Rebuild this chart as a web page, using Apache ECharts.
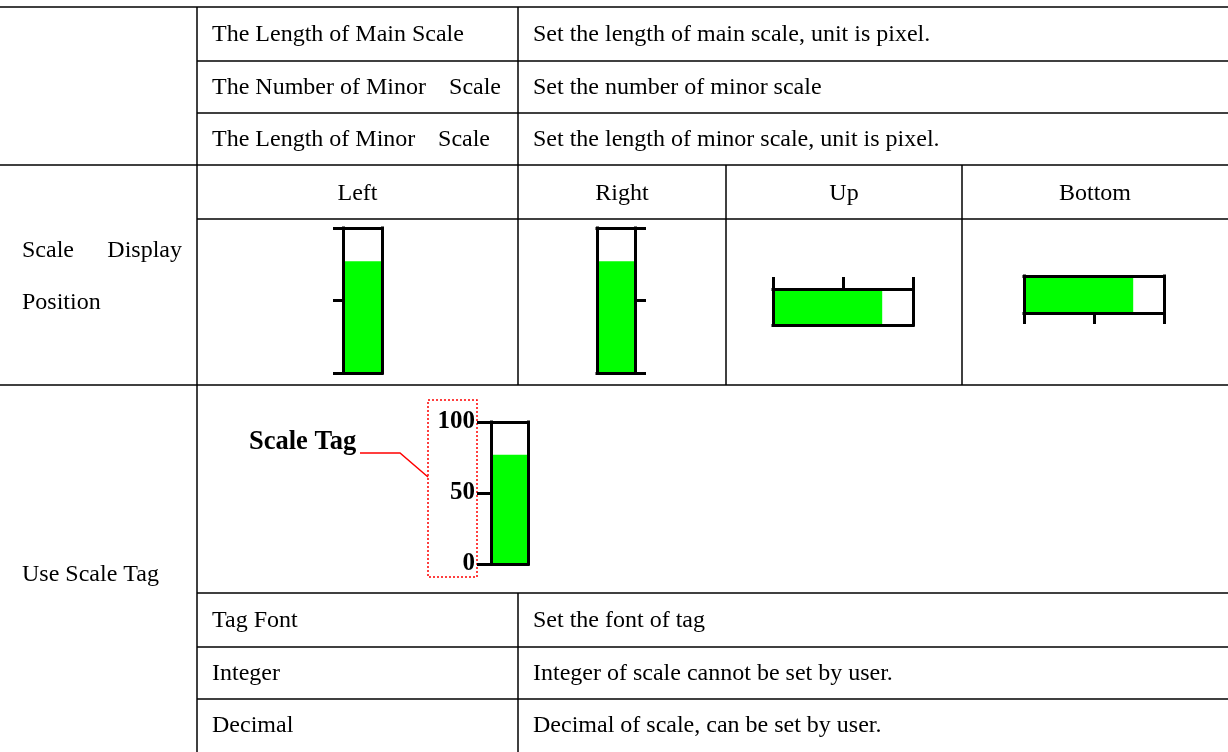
<!DOCTYPE html>
<html><head><meta charset="utf-8">
<script src="https://cdn.jsdelivr.net/npm/echarts@6/dist/echarts.min.js"></script>
<style>html,body{margin:0;padding:0;background:#fff}#c{width:1228px;height:752px}</style>
</head><body><div id="c"></div>
<script>
// ---- data ----
const positionNames = ['Left', 'Right', 'Up', 'Bottom'];
const gaugeValues = [77, 77, 78, 78];
const tagGaugeValue = 77;
const scaleMin = 0;
const scaleMax = 100;
const scaleStep = 50;
const scaleRowNames = ['The Length of Main Scale', 'The Number of Minor', 'The Length of Minor'];
const scaleRowTails = ['', 'Scale', 'Scale'];
const scaleRowDescs = ['Set the length of main scale, unit is pixel.', 'Set the number of minor scale', 'Set the length of minor scale, unit is pixel.'];
const tagRowNames = ['Tag Font', 'Integer', 'Decimal'];
const tagRowDescs = ['Set the font of tag', 'Integer of scale cannot be set by user.', 'Decimal of scale, can be set by user.'];
const sideLabels = ['Scale', 'Display', 'Position', 'Use Scale Tag'];
const tagTitle = 'Scale Tag';

// ---- layout ----
const FONT = '"Liberation Serif", "Times New Roman", serif';
const FS = 24;
const BLACK = '#000';
const GREEN = '#00ff00';
const DY = 1.5;

const grids = [], xAxes = [], yAxes = [], series = [];
const lineSt = { color: BLACK, width: 3, cap: 'square' };
function plainAxis(g, type, pos, extra) {
  return Object.assign({
    gridIndex: g, type: type, position: pos,
    axisLine: { show: true, onZero: false, lineStyle: lineSt },
    axisTick: { show: false }, axisLabel: { show: false }, splitLine: { show: false }, z: 5
  }, type === 'value' ? { min: scaleMin, max: scaleMax, interval: scaleStep } : { data: [''] }, extra || {});
}
function scaleAxis(g, pos, tickLen, label) {
  return {
    gridIndex: g, type: 'value', position: pos, min: scaleMin, max: scaleMax, interval: scaleStep,
    axisLine: { show: true, onZero: false, lineStyle: lineSt },
    axisTick: { show: true, length: tickLen, lineStyle: { color: BLACK, width: 3 } },
    axisLabel: label || { show: false },
    splitLine: { show: false }, z: 5
  };
}
function vGauge(box, side, tickLen, value, label) {
  const g = grids.length;
  grids.push({ left: box[0], top: box[1], width: box[2], height: box[3], containLabel: false });
  const xi = xAxes.length, yi = yAxes.length;
  xAxes.push(plainAxis(g, 'category', 'bottom'), plainAxis(g, 'category', 'top'));
  yAxes.push(scaleAxis(g, side, tickLen, label), plainAxis(g, 'value', side === 'left' ? 'right' : 'left'));
  series.push({ type: 'bar', xAxisIndex: xi, yAxisIndex: yi, data: [value], barWidth: '100%', itemStyle: { color: GREEN }, silent: true, z: 2 });
}
function hGauge(box, side, tickLen, value) {
  const g = grids.length;
  grids.push({ left: box[0], top: box[1], width: box[2], height: box[3], containLabel: false });
  const xi = xAxes.length, yi = yAxes.length;
  xAxes.push(scaleAxis(g, side, tickLen), plainAxis(g, 'value', side === 'top' ? 'bottom' : 'top'));
  yAxes.push(plainAxis(g, 'category', 'left'), plainAxis(g, 'category', 'right'));
  series.push({ type: 'bar', xAxisIndex: xi, yAxisIndex: yi, data: [value], barWidth: '100%', itemStyle: { color: GREEN }, silent: true, z: 2 });
}
vGauge([343, 228, 39, 145], 'left', 10, gaugeValues[0]);
vGauge([597, 228, 38, 145], 'right', 11, gaugeValues[1]);
hGauge([773, 289, 140, 36], 'top', 12, gaugeValues[2]);
hGauge([1024, 276, 140, 37], 'bottom', 11, gaugeValues[3]);
vGauge([491, 422, 37, 142], 'left', 14, tagGaugeValue,
  { show: true, margin: 16, color: BLACK, fontFamily: FONT, fontWeight: 'bold', fontSize: 25 });

// ---- table graphics ----
const gr = [];
function hl(y, x1, x2) { gr.push({ type: 'line', shape: { x1: x1, y1: y, x2: x2, y2: y }, style: { stroke: BLACK, lineWidth: 1.5 }, silent: true }); }
function vl(x, y1, y2) { gr.push({ type: 'line', shape: { x1: x, y1: y1, x2: x, y2: y2 }, style: { stroke: BLACK, lineWidth: 1.5 }, silent: true }); }
function tx(s, x, y, align, extra) {
  gr.push({ type: 'text', x: x, y: y + DY, silent: true,
    style: Object.assign({ text: s, fill: BLACK, font: FS + 'px ' + FONT, align: align || 'left', verticalAlign: 'middle' }, extra || {}) });
}
hl(7, 0, 1228); hl(61, 197, 1228); hl(113, 197, 1228); hl(165, 0, 1228); hl(219, 197, 1228);
hl(385, 0, 1228); hl(593, 197, 1228); hl(647, 197, 1228); hl(699, 197, 1228);
vl(197, 7, 752); vl(518, 7, 385); vl(518, 593, 752); vl(726, 165, 385); vl(962, 165, 385);

const topCenters = [33, 86, 138];
scaleRowNames.forEach((s, i) => {
  tx(s, 212, topCenters[i]);
  if (scaleRowTails[i]) tx(scaleRowTails[i], i === 1 ? 501 : 490, topCenters[i], 'right');
  tx(scaleRowDescs[i], 533, topCenters[i]);
});
const headCenters = [357.5, 622, 844, 1095];
positionNames.forEach((s, i) => tx(s, headCenters[i], 192, 'center'));
tx(sideLabels[0], 22, 249); tx(sideLabels[1], 182, 249, 'right'); tx(sideLabels[2], 22, 301);
tx(sideLabels[3], 22, 573);
const tagCenters = [619, 672, 724];
tagRowNames.forEach((s, i) => { tx(s, 212, tagCenters[i]); tx(tagRowDescs[i], 533, tagCenters[i]); });

// scale tag annotation
tx(tagTitle, 249, 441, 'left', { font: 'bold 26.5px ' + FONT });
gr.push({ type: 'polyline', shape: { points: [[360, 453], [400, 453], [428, 477]] }, style: { stroke: '#ff0000', lineWidth: 1.5, fill: null }, silent: true });
gr.push({ type: 'rect', shape: { x: 428, y: 400, width: 49, height: 177 }, style: { stroke: '#ff0000', lineWidth: 1.5, fill: null, lineDash: [2, 2] }, silent: true });

const chart = echarts.init(document.getElementById('c'));
chart.setOption({
  animation: false,
  backgroundColor: '#fff',
  grid: grids, xAxis: xAxes, yAxis: yAxes, series: series,
  graphic: gr
});
</script></body></html>
